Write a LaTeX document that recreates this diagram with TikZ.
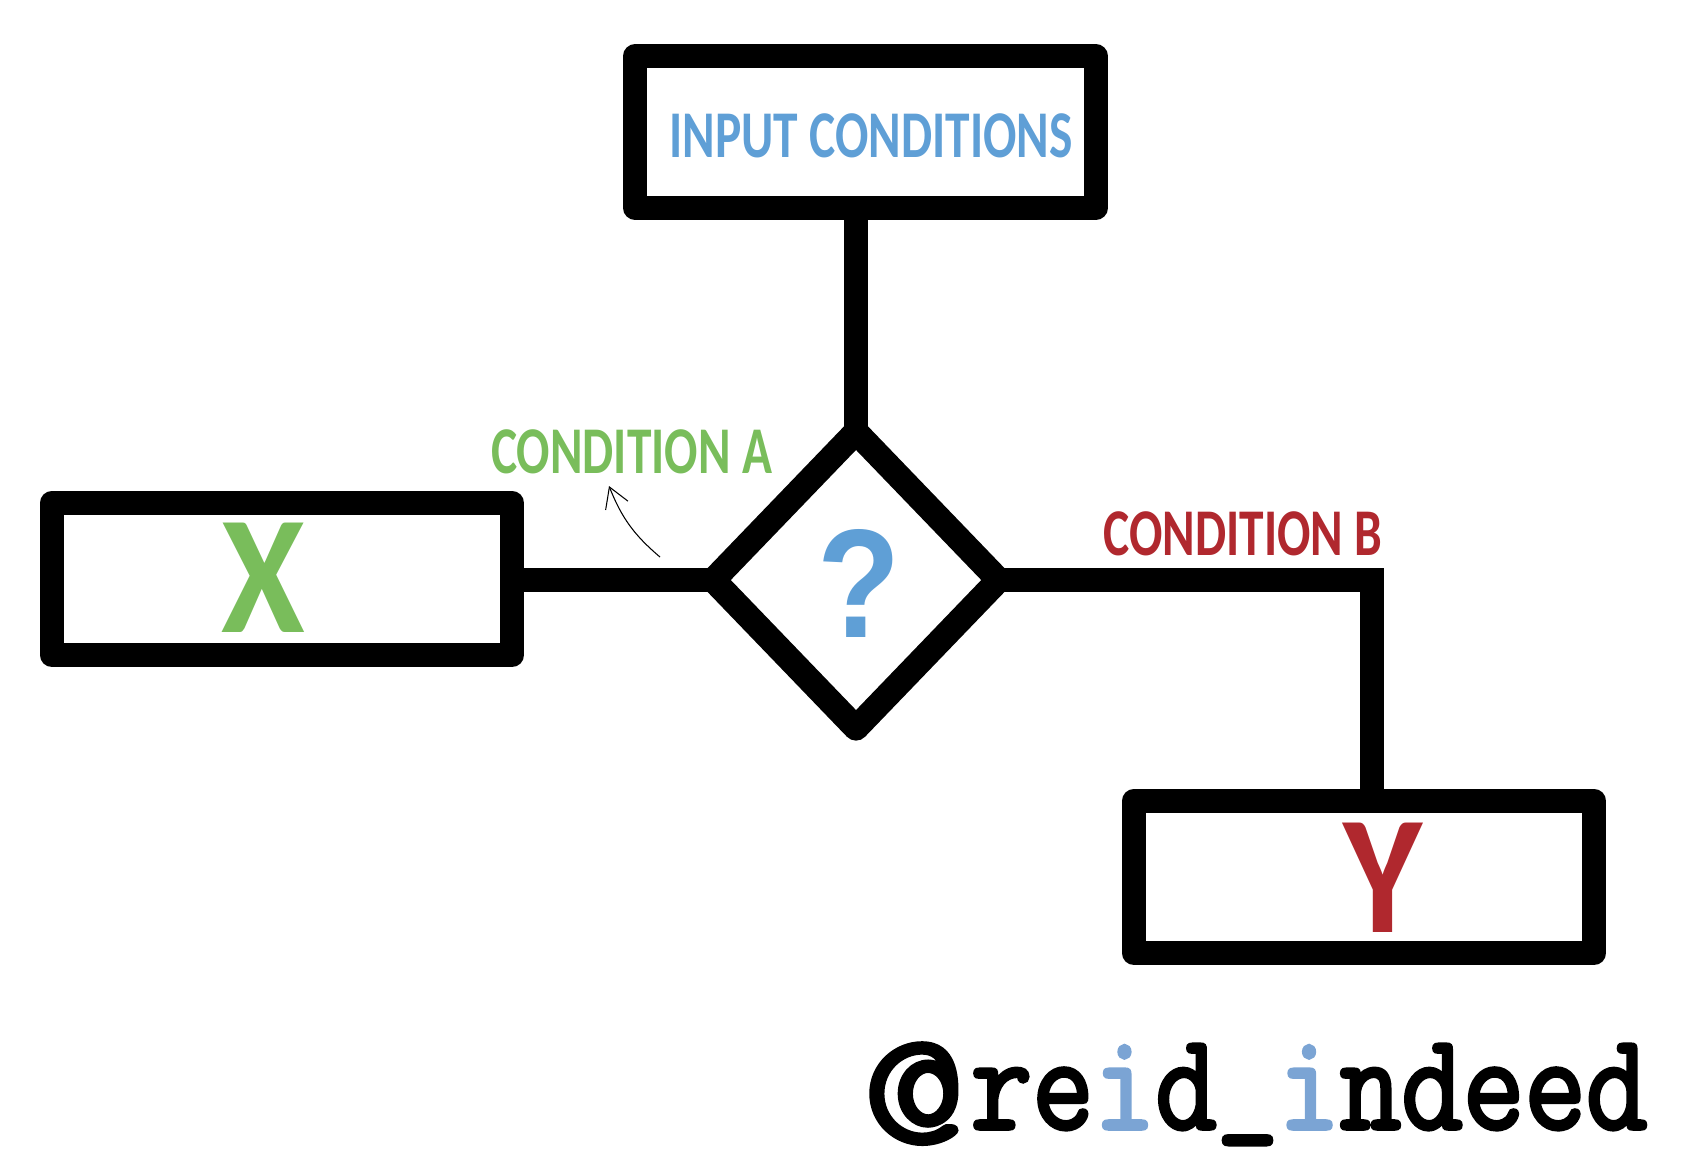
\documentclass[tikz,border=0pt]{standalone}
\usepackage{fontspec}
\usetikzlibrary{shapes.geometric,arrows.meta}
\newfontfamily\handfont[FakeStretch=.74]{Carlito}
\newfontfamily\bighandfont[FakeStretch=.9]{Carlito}
\newfontfamily\markfont[FakeStretch=.88]{Liberation Sans}
\newfontfamily\tagfont[FakeBold=2.5,FakeStretch=.86]{Latin Modern Mono}
\newfontfamily\atfont[FakeBold=2.5,FakeStretch=1.23]{Latin Modern Mono}
\definecolor{handblue}{HTML}{5F9FD6}
\definecolor{handgreen}{HTML}{79BD5B}
\definecolor{handred}{HTML}{B0282E}
\definecolor{tagblue}{HTML}{7BA4D4}

\begin{document}
\begin{tikzpicture}[
  x=.01cm,
  y=-.01cm,
  flow box/.style={
    draw,
    black,
    line width=2.4mm,
    line join=round,
    minimum width=4.6cm,
    minimum height=1.52cm,
    outer sep=0pt
  },
  flow diamond/.style={
    flow box,
    diamond,
    aspect=.95,
    inner sep=0pt,
    line width=2.5mm,
    minimum width=2.85cm,
    minimum height=2.96cm
  },
  flow link/.style={
    draw,
    line width=2.4mm
  },
  small label/.style={
    font=\handfont\bfseries\fontsize{19}{19}\selectfont
  },
  big label/.style={
    font=\bighandfont\bfseries\fontsize{48}{48}\selectfont
  },
  tag/.style={
    font=\tagfont\fontsize{39.5}{39.5}\selectfont,
    anchor=base west,
    inner sep=0pt
  },
]
\useasboundingbox (0,0) rectangle (1686,1150);

\node[flow box] (input) at (865.5,132) {};
\node[flow box] (xbox) at (282,579) {};
\node[flow box] (ybox) at (1364,877) {};
\node[flow diamond] (decision) at (856,580) {};

\draw[flow link] (decision.north) -- (decision.north |- input.south);
\draw[flow link] (decision.west) -- (decision.west -| xbox.east);
\draw[flow link] (decision.east) -| ([xshift=.08cm]ybox.north);

\node[small label,handblue] (input label) at (871,136) {INPUT CONDITIONS};
\node[small label,handgreen] (condition a) at (631.5,452) {CONDITION A};
\node[small label,handred] (condition b) at (1243,534) {CONDITION B};
\node[big label,handgreen] (x label) at (263,578) {X};
\node[big label,handred] (y label) at (1383,878) {Y};
\node[big label,handblue,font=\markfont\bfseries\fontsize{44}{44}\selectfont] (question) at (859,583) {?};

\coordinate (hint start) at (660,557);
\coordinate (hint end) at (609,486);
\draw[-{Straight Barb[length=2mm,width=2.4mm]},line width=.3pt] (hint start) to[bend left=14] (hint end);

\node[tag,font=\atfont\fontsize{46}{46}\selectfont] (at sign) at (862,1143) {@};
\node[tag] (handle) at (970,1129) {re\textcolor{tagblue}{i}d\raisebox{.12cm}{\_}\textcolor{tagblue}{i}ndeed};
\end{tikzpicture}
\end{document}
